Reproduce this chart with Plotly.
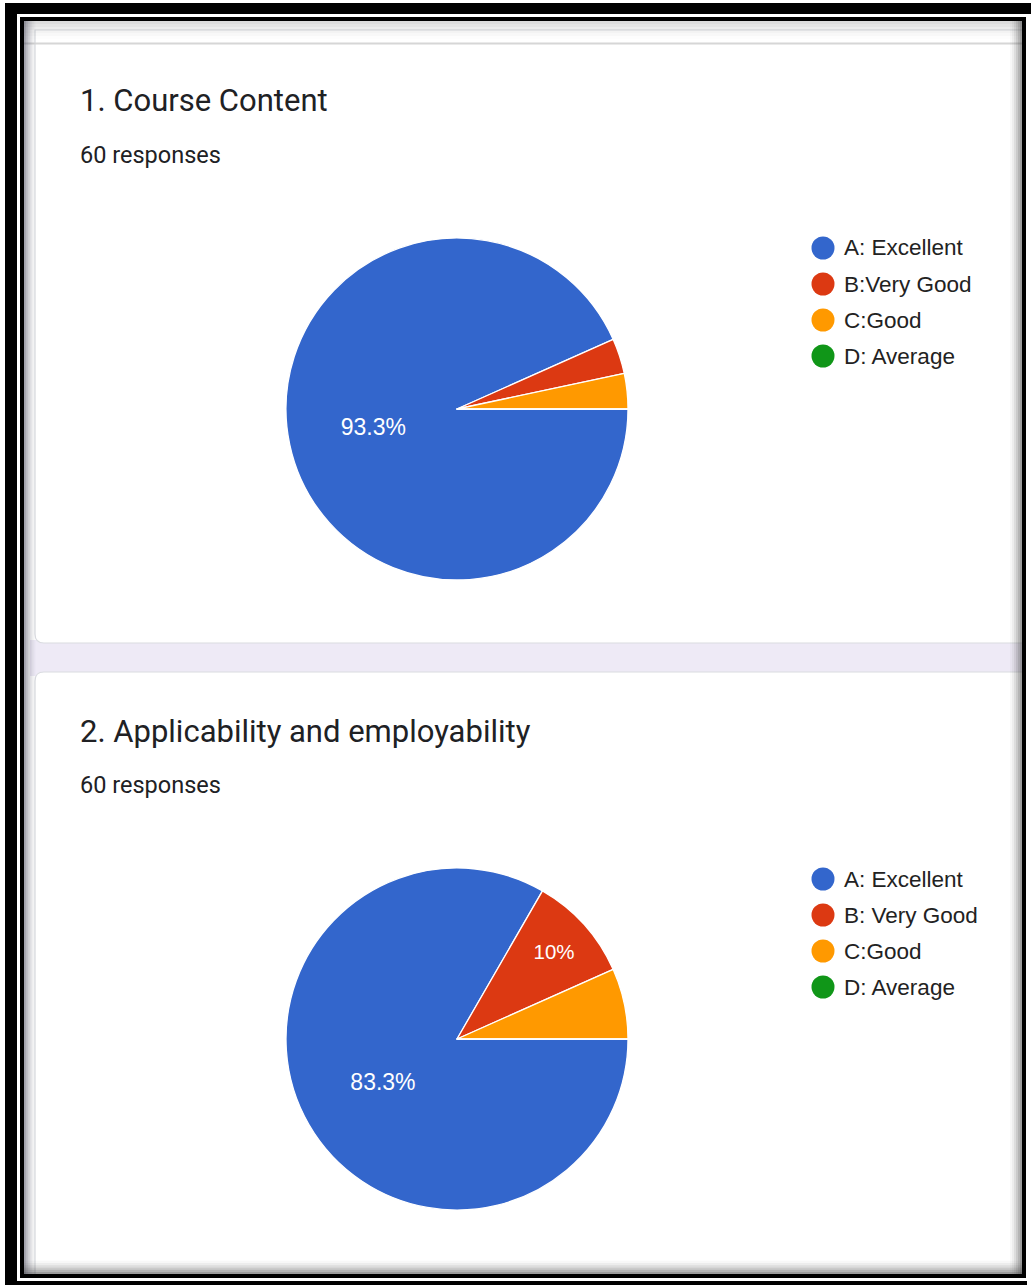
import plotly.graph_objects as go

W, H = 1031, 1285

# ---------------- data ----------------
titles = ["1. Course Content", "2. Applicability and employability"]
responses = ["60 responses", "60 responses"]
labels_1 = ["A: Excellent", "B:Very Good", "C:Good", "D: Average"]
labels_2 = ["A: Excellent", "B: Very Good", "C:Good", "D: Average"]
counts_1 = [56, 2, 2, 0]
counts_2 = [50, 6, 4, 0]
colors = ["#3366cc", "#dc3912", "#ff9900", "#109618"]


def fx(px):
    return px / W


def fy(py):
    return 1 - py / H


def rect(x0, y0, x1, y1, fill, layer="below"):
    return dict(type="rect", xref="paper", yref="paper",
                x0=fx(x0), x1=fx(x1), y0=fy(y1), y1=fy(y0),
                fillcolor=fill, layer=layer, line=dict(width=0))


def path_shape(pts_str, fill, line, lw=1):
    return dict(type="path", xref="paper", yref="paper", path=pts_str,
                fillcolor=fill, layer="below", line=dict(color=line, width=lw))


def P(x, y):
    return f"{fx(x):.6f},{fy(y):.6f}"


shapes = []
# page area inside the frame
shapes.append(rect(24, 21, 1022, 1274, "white"))
# lavender gap between cards
shapes.append(rect(30, 640, 1022, 676, "#eeeaf6"))

r = 9
card1 = (f"M{P(35, 30)} L{P(35, 643 - r)} Q{P(35, 643)} {P(35 + r, 643)} "
         f"L{P(1024, 643)} L{P(1024, 30)} Z")
card2 = (f"M{P(1024, 672)} L{P(35 + r, 672)} Q{P(35, 672)} {P(35, 672 + r)} "
         f"L{P(35, 1276)} L{P(1024, 1276)} Z")
shapes.append(path_shape(card1, "white", "#dadce0", 1.2))
shapes.append(path_shape(card2, "white", "#dadce0", 1.2))
# header rule
shapes.append(rect(24, 42.5, 1022, 44.5, "#d6d6d6"))

# inner shadow gradients (stacked translucent strips)
steps = 6
for i in range(steps):
    a = 0.5 * (1 - i / steps) ** 1.5
    shapes.append(rect(24 + i * 1.9, 21, 24 + (i + 1) * 1.9, 1274, f"rgba(70,70,90,{a:.3f})"))
    shapes.append(rect(1022 - (i + 1) * 2.0, 21, 1022 - i * 2.0, 1274, f"rgba(60,60,60,{a:.3f})"))
    shapes.append(rect(24, 21 + i * 3.0, 1022, 21 + (i + 1) * 3.0, f"rgba(60,60,60,{a * 0.35:.3f})"))
    shapes.append(rect(24, 1274 - (i + 1) * 2.2, 1022, 1274 - i * 2.2, f"rgba(60,60,60,{a:.3f})"))

# black frames (drawn last so nothing covers them)
shapes.append(dict(type="rect", xref="paper", yref="paper",
                   x0=fx(22), x1=fx(1024), y0=fy(1276), y1=fy(19),
                   fillcolor="rgba(0,0,0,0)", layer="below",
                   line=dict(color="black", width=4)))
shapes.append(rect(5, 3, 1040, 14, "black"))
shapes.append(rect(5, 3, 17, 1290, "black"))
shapes.append(rect(5, 1281, 1027, 1290, "black"))

annotations = []
title_y = [101, 731]
resp_y = [155, 785]
for t, ty, rs, ry in zip(titles, title_y, responses, resp_y):
    annotations.append(dict(text=t, xref="paper", yref="paper", x=fx(78), y=fy(ty),
                            xanchor="left", yanchor="middle", showarrow=False,
                            font=dict(family="Roboto", size=31, color="#202124")))
    annotations.append(dict(text=rs, xref="paper", yref="paper", x=fx(78), y=fy(ry),
                            xanchor="left", yanchor="middle", showarrow=False,
                            font=dict(family="Roboto", size=23.5, color="#202124")))

# legends with circle markers
legend_top = [248, 879]
for labels, ly in zip([labels_1, labels_2], legend_top):
    for k, (lab, col) in enumerate(zip(labels, colors)):
        cy = ly + 36 * k
        shapes.append(dict(type="circle", xref="paper", yref="paper",
                           x0=fx(823 - 11.5), x1=fx(823 + 11.5),
                           y0=fy(cy + 11.5), y1=fy(cy - 11.5),
                           fillcolor=col, line=dict(width=0), layer="above"))
        annotations.append(dict(text=lab, xref="paper", yref="paper", x=fx(842), y=fy(cy),
                                xanchor="left", yanchor="middle", showarrow=False,
                                font=dict(family="Arial, Liberation Sans", size=22.5, color="#222222")))


def templates(counts):
    tot = sum(counts)
    return ["%{percent}" if c / tot >= 0.08 else "" for c in counts]


def sizes(counts):
    tot = sum(counts)
    return [23 if c / tot >= 0.5 else 20.5 for c in counts]


cx, rad = 457, 171
centers_y = [409, 1039]
fig = go.Figure()
for labels, counts, cyy in zip([labels_1, labels_2], [counts_1, counts_2], centers_y):
    fig.add_trace(go.Pie(
        labels=labels, values=counts, sort=False, direction="clockwise", rotation=90,
        marker=dict(colors=colors, line=dict(color="white", width=1.3)),
        texttemplate=templates(counts), textposition="inside",
        insidetextorientation="horizontal",
        textfont=dict(family="Arial, Liberation Sans", size=sizes(counts), color="white"),
        hoverinfo="label+percent", showlegend=False,
        domain=dict(x=[fx(cx - rad), fx(cx + rad)], y=[fy(cyy + rad), fy(cyy - rad)]),
    ))

fig.update_layout(
    width=W, height=H, margin=dict(l=0, r=0, t=0, b=0),
    paper_bgcolor="white", plot_bgcolor="white",
    shapes=shapes, annotations=annotations, showlegend=False,
)

fig.write_html("out.html", config={"displayModeBar": False},
               post_script="document.body.style.margin='0';document.body.style.overflow='hidden';")
